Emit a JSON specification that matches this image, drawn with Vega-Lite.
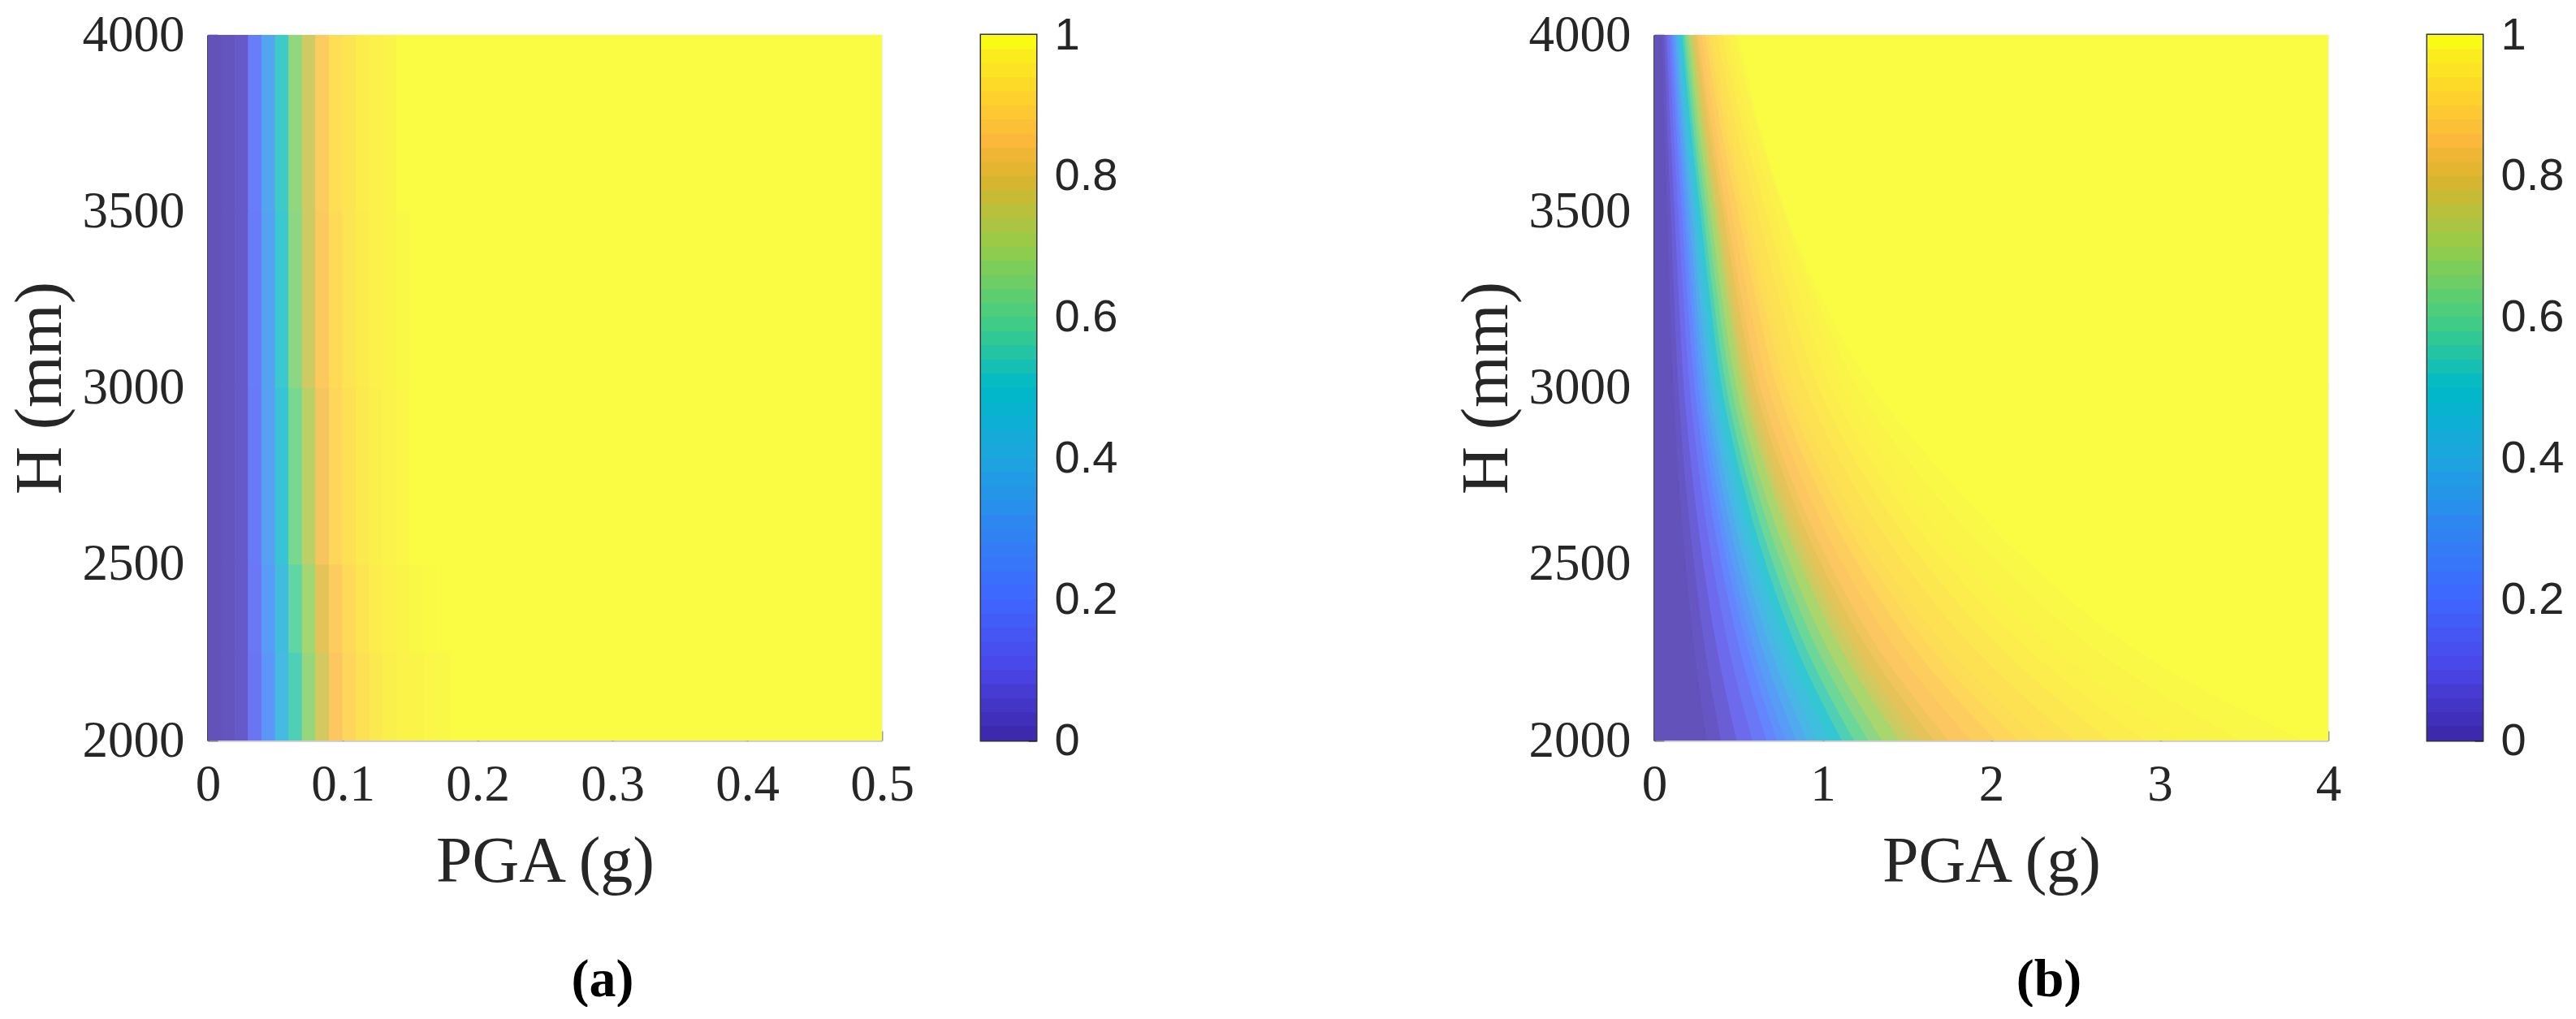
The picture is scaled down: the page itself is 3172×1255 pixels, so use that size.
{
"$schema":"https://vega.github.io/schema/vega-lite/v6.json",
"background":"white",
"padding":{"left":8,"top":12,"right":0,"bottom":0},
"bounds":"flush",
"spacing":1781,
"resolve":{"scale":{"color":"independent","stroke":"independent"}},
"config":{"view":{"stroke":null},
"axis":{"labelFont":"Liberation Serif","titleFont":"Liberation Serif","labelFontSize":63,"titleFontSize":80,"labelColor":"#262626","titleColor":"#262626","titleFontWeight":"normal","zindex":1,"grid":true,"gridColor":"#000","gridOpacity":0.05,"gridWidth":2,"tickSize":-12,"tickWidth":2,"tickColor":"#222","tickOpacity":0.4,"labelPadding":27,"domainWidth":3,"labelFlush":false,"labelOverlap":false}},
"datasets":{
"bar":[{"lo":0,"v":0.01},{"lo":0.02,"v":0.03},{"lo":0.04,"v":0.05},{"lo":0.06,"v":0.07},{"lo":0.08,"v":0.09},{"lo":0.1,"v":0.11},{"lo":0.12,"v":0.13},{"lo":0.14,"v":0.15},{"lo":0.16,"v":0.17},{"lo":0.18,"v":0.19},{"lo":0.2,"v":0.21},{"lo":0.22,"v":0.23},{"lo":0.24,"v":0.25},{"lo":0.26,"v":0.27},{"lo":0.28,"v":0.29},{"lo":0.3,"v":0.31},{"lo":0.32,"v":0.33},{"lo":0.34,"v":0.35},{"lo":0.36,"v":0.37},{"lo":0.38,"v":0.39},{"lo":0.4,"v":0.41},{"lo":0.42,"v":0.43},{"lo":0.44,"v":0.45},{"lo":0.46,"v":0.47},{"lo":0.48,"v":0.49},{"lo":0.5,"v":0.51},{"lo":0.52,"v":0.53},{"lo":0.54,"v":0.55},{"lo":0.56,"v":0.57},{"lo":0.58,"v":0.59},{"lo":0.6,"v":0.61},{"lo":0.62,"v":0.63},{"lo":0.64,"v":0.65},{"lo":0.66,"v":0.67},{"lo":0.68,"v":0.69},{"lo":0.7,"v":0.71},{"lo":0.72,"v":0.73},{"lo":0.74,"v":0.75},{"lo":0.76,"v":0.77},{"lo":0.78,"v":0.79},{"lo":0.8,"v":0.81},{"lo":0.82,"v":0.83},{"lo":0.84,"v":0.85},{"lo":0.86,"v":0.87},{"lo":0.88,"v":0.89},{"lo":0.9,"v":0.91},{"lo":0.92,"v":0.93},{"lo":0.94,"v":0.95},{"lo":0.96,"v":0.97},{"lo":0.98,"v":1}],
"a":[
{"x0":0.19,"x1":0.5,"h0":2000,"h1":4000,"v":1},
{"x0":0,"x1":0.01,"h0":2000,"h1":2250,"v":0.005},{"x0":0.01,"x1":0.02,"h0":2000,"h1":2250,"v":0.01},{"x0":0.02,"x1":0.03,"h0":2000,"h1":2250,"v":0.03},{"x0":0.03,"x1":0.04,"h0":2000,"h1":2250,"v":0.14},{"x0":0.04,"x1":0.05,"h0":2000,"h1":2250,"v":0.27},{"x0":0.05,"x1":0.06,"h0":2000,"h1":2250,"v":0.42},{"x0":0.06,"x1":0.07,"h0":2000,"h1":2250,"v":0.55},{"x0":0.07,"x1":0.08,"h0":2000,"h1":2250,"v":0.67},{"x0":0.08,"x1":0.09,"h0":2000,"h1":2250,"v":0.77},{"x0":0.09,"x1":0.1,"h0":2000,"h1":2250,"v":0.85},{"x0":0.1,"x1":0.11,"h0":2000,"h1":2250,"v":0.9},{"x0":0.11,"x1":0.12,"h0":2000,"h1":2250,"v":0.93},{"x0":0.12,"x1":0.13,"h0":2000,"h1":2250,"v":0.95},{"x0":0.13,"x1":0.14,"h0":2000,"h1":2250,"v":0.965},{"x0":0.14,"x1":0.15,"h0":2000,"h1":2250,"v":0.975},{"x0":0.15,"x1":0.16,"h0":2000,"h1":2250,"v":0.98},{"x0":0.16,"x1":0.17,"h0":2000,"h1":2250,"v":0.985},{"x0":0.17,"x1":0.18,"h0":2000,"h1":2250,"v":0.99},{"x0":0.18,"x1":0.19,"h0":2000,"h1":2250,"v":1},
{"x0":0,"x1":0.01,"h0":2250,"h1":2500,"v":0.005},{"x0":0.01,"x1":0.02,"h0":2250,"h1":2500,"v":0.01},{"x0":0.02,"x1":0.03,"h0":2250,"h1":2500,"v":0.03},{"x0":0.03,"x1":0.04,"h0":2250,"h1":2500,"v":0.15},{"x0":0.04,"x1":0.05,"h0":2250,"h1":2500,"v":0.29},{"x0":0.05,"x1":0.06,"h0":2250,"h1":2500,"v":0.44},{"x0":0.06,"x1":0.07,"h0":2250,"h1":2500,"v":0.58},{"x0":0.07,"x1":0.08,"h0":2250,"h1":2500,"v":0.69},{"x0":0.08,"x1":0.09,"h0":2250,"h1":2500,"v":0.8},{"x0":0.09,"x1":0.1,"h0":2250,"h1":2500,"v":0.87},{"x0":0.1,"x1":0.11,"h0":2250,"h1":2500,"v":0.91},{"x0":0.11,"x1":0.12,"h0":2250,"h1":2500,"v":0.94},{"x0":0.12,"x1":0.13,"h0":2250,"h1":2500,"v":0.96},{"x0":0.13,"x1":0.14,"h0":2250,"h1":2500,"v":0.97},{"x0":0.14,"x1":0.15,"h0":2250,"h1":2500,"v":0.98},{"x0":0.15,"x1":0.16,"h0":2250,"h1":2500,"v":0.99},{"x0":0.16,"x1":0.17,"h0":2250,"h1":2500,"v":0.995},{"x0":0.17,"x1":0.19,"h0":2250,"h1":2500,"v":1},
{"x0":0,"x1":0.01,"h0":2500,"h1":3000,"v":0.005},{"x0":0.01,"x1":0.02,"h0":2500,"h1":3000,"v":0.01},{"x0":0.02,"x1":0.03,"h0":2500,"h1":3000,"v":0.03},{"x0":0.03,"x1":0.04,"h0":2500,"h1":3000,"v":0.16},{"x0":0.04,"x1":0.05,"h0":2500,"h1":3000,"v":0.31},{"x0":0.05,"x1":0.06,"h0":2500,"h1":3000,"v":0.48},{"x0":0.06,"x1":0.07,"h0":2500,"h1":3000,"v":0.62},{"x0":0.07,"x1":0.08,"h0":2500,"h1":3000,"v":0.73},{"x0":0.08,"x1":0.09,"h0":2500,"h1":3000,"v":0.84},{"x0":0.09,"x1":0.1,"h0":2500,"h1":3000,"v":0.9},{"x0":0.1,"x1":0.11,"h0":2500,"h1":3000,"v":0.93},{"x0":0.11,"x1":0.12,"h0":2500,"h1":3000,"v":0.95},{"x0":0.12,"x1":0.13,"h0":2500,"h1":3000,"v":0.965},{"x0":0.13,"x1":0.14,"h0":2500,"h1":3000,"v":0.975},{"x0":0.14,"x1":0.15,"h0":2500,"h1":3000,"v":0.985},{"x0":0.15,"x1":0.19,"h0":2500,"h1":3000,"v":1},
{"x0":0,"x1":0.01,"h0":3000,"h1":3500,"v":0.005},{"x0":0.01,"x1":0.02,"h0":3000,"h1":3500,"v":0.01},{"x0":0.02,"x1":0.03,"h0":3000,"h1":3500,"v":0.03},{"x0":0.03,"x1":0.04,"h0":3000,"h1":3500,"v":0.165},{"x0":0.04,"x1":0.05,"h0":3000,"h1":3500,"v":0.32},{"x0":0.05,"x1":0.06,"h0":3000,"h1":3500,"v":0.51},{"x0":0.06,"x1":0.07,"h0":3000,"h1":3500,"v":0.65},{"x0":0.07,"x1":0.08,"h0":3000,"h1":3500,"v":0.76},{"x0":0.08,"x1":0.09,"h0":3000,"h1":3500,"v":0.86},{"x0":0.09,"x1":0.1,"h0":3000,"h1":3500,"v":0.91},{"x0":0.1,"x1":0.11,"h0":3000,"h1":3500,"v":0.94},{"x0":0.11,"x1":0.12,"h0":3000,"h1":3500,"v":0.955},{"x0":0.12,"x1":0.13,"h0":3000,"h1":3500,"v":0.97},{"x0":0.13,"x1":0.14,"h0":3000,"h1":3500,"v":0.98},{"x0":0.14,"x1":0.15,"h0":3000,"h1":3500,"v":0.99},{"x0":0.15,"x1":0.19,"h0":3000,"h1":3500,"v":1},
{"x0":0,"x1":0.01,"h0":3500,"h1":4000,"v":0.005},{"x0":0.01,"x1":0.02,"h0":3500,"h1":4000,"v":0.01},{"x0":0.02,"x1":0.03,"h0":3500,"h1":4000,"v":0.03},{"x0":0.03,"x1":0.04,"h0":3500,"h1":4000,"v":0.17},{"x0":0.04,"x1":0.05,"h0":3500,"h1":4000,"v":0.33},{"x0":0.05,"x1":0.06,"h0":3500,"h1":4000,"v":0.52},{"x0":0.06,"x1":0.07,"h0":3500,"h1":4000,"v":0.66},{"x0":0.07,"x1":0.08,"h0":3500,"h1":4000,"v":0.76},{"x0":0.08,"x1":0.09,"h0":3500,"h1":4000,"v":0.87},{"x0":0.09,"x1":0.1,"h0":3500,"h1":4000,"v":0.92},{"x0":0.1,"x1":0.11,"h0":3500,"h1":4000,"v":0.94},{"x0":0.11,"x1":0.12,"h0":3500,"h1":4000,"v":0.96},{"x0":0.12,"x1":0.13,"h0":3500,"h1":4000,"v":0.97},{"x0":0.13,"x1":0.14,"h0":3500,"h1":4000,"v":0.98},{"x0":0.14,"x1":0.19,"h0":3500,"h1":4000,"v":1}
],
"b":[
{"H":2000,"p":0,"v":0.005},{"H":4000,"p":0,"v":0.005},
{"H":2000,"p":0.312,"v":0.02},{"H":2250,"p":0.24,"v":0.02},{"H":2500,"p":0.186,"v":0.02},{"H":2750,"p":0.144,"v":0.02},{"H":3000,"p":0.113,"v":0.02},{"H":3250,"p":0.093,"v":0.02},{"H":3500,"p":0.077,"v":0.02},{"H":3750,"p":0.06,"v":0.02},{"H":4000,"p":0.047,"v":0.02},
{"H":2000,"p":0.395,"v":0.05},{"H":2250,"p":0.304,"v":0.05},{"H":2500,"p":0.236,"v":0.05},{"H":2750,"p":0.182,"v":0.05},{"H":3000,"p":0.143,"v":0.05},{"H":3250,"p":0.118,"v":0.05},{"H":3500,"p":0.097,"v":0.05},{"H":3750,"p":0.076,"v":0.05},{"H":4000,"p":0.059,"v":0.05},
{"H":2000,"p":0.489,"v":0.1},{"H":2250,"p":0.376,"v":0.1},{"H":2500,"p":0.291,"v":0.1},{"H":2750,"p":0.226,"v":0.1},{"H":3000,"p":0.176,"v":0.1},{"H":3250,"p":0.146,"v":0.1},{"H":3500,"p":0.12,"v":0.1},{"H":3750,"p":0.094,"v":0.1},{"H":4000,"p":0.073,"v":0.1},
{"H":2000,"p":0.582,"v":0.15},{"H":2250,"p":0.448,"v":0.15},{"H":2500,"p":0.347,"v":0.15},{"H":2750,"p":0.269,"v":0.15},{"H":3000,"p":0.21,"v":0.15},{"H":3250,"p":0.174,"v":0.15},{"H":3500,"p":0.143,"v":0.15},{"H":3750,"p":0.112,"v":0.15},{"H":4000,"p":0.087,"v":0.15},
{"H":2000,"p":0.666,"v":0.2},{"H":2250,"p":0.512,"v":0.2},{"H":2500,"p":0.397,"v":0.2},{"H":2750,"p":0.307,"v":0.2},{"H":3000,"p":0.24,"v":0.2},{"H":3250,"p":0.198,"v":0.2},{"H":3500,"p":0.163,"v":0.2},{"H":3750,"p":0.128,"v":0.2},{"H":4000,"p":0.099,"v":0.2},
{"H":2000,"p":0.728,"v":0.25},{"H":2250,"p":0.56,"v":0.25},{"H":2500,"p":0.434,"v":0.25},{"H":2750,"p":0.336,"v":0.25},{"H":3000,"p":0.263,"v":0.25},{"H":3250,"p":0.217,"v":0.25},{"H":3500,"p":0.179,"v":0.25},{"H":3750,"p":0.14,"v":0.25},{"H":4000,"p":0.109,"v":0.25},
{"H":2000,"p":0.78,"v":0.3},{"H":2250,"p":0.6,"v":0.3},{"H":2500,"p":0.465,"v":0.3},{"H":2750,"p":0.36,"v":0.3},{"H":3000,"p":0.281,"v":0.3},{"H":3250,"p":0.233,"v":0.3},{"H":3500,"p":0.191,"v":0.3},{"H":3750,"p":0.15,"v":0.3},{"H":4000,"p":0.116,"v":0.3},
{"H":2000,"p":0.842,"v":0.35},{"H":2250,"p":0.648,"v":0.35},{"H":2500,"p":0.502,"v":0.35},{"H":2750,"p":0.389,"v":0.35},{"H":3000,"p":0.304,"v":0.35},{"H":3250,"p":0.251,"v":0.35},{"H":3500,"p":0.207,"v":0.35},{"H":3750,"p":0.162,"v":0.35},{"H":4000,"p":0.126,"v":0.35},
{"H":2000,"p":0.905,"v":0.4},{"H":2250,"p":0.696,"v":0.4},{"H":2500,"p":0.539,"v":0.4},{"H":2750,"p":0.418,"v":0.4},{"H":3000,"p":0.326,"v":0.4},{"H":3250,"p":0.27,"v":0.4},{"H":3500,"p":0.222,"v":0.4},{"H":3750,"p":0.174,"v":0.4},{"H":4000,"p":0.135,"v":0.4},
{"H":2000,"p":0.967,"v":0.45},{"H":2250,"p":0.744,"v":0.45},{"H":2500,"p":0.577,"v":0.45},{"H":2750,"p":0.446,"v":0.45},{"H":3000,"p":0.349,"v":0.45},{"H":3250,"p":0.288,"v":0.45},{"H":3500,"p":0.237,"v":0.45},{"H":3750,"p":0.186,"v":0.45},{"H":4000,"p":0.144,"v":0.45},
{"H":2000,"p":1.04,"v":0.5},{"H":2250,"p":0.8,"v":0.5},{"H":2500,"p":0.62,"v":0.5},{"H":2750,"p":0.48,"v":0.5},{"H":3000,"p":0.375,"v":0.5},{"H":3250,"p":0.31,"v":0.5},{"H":3500,"p":0.255,"v":0.5},{"H":3750,"p":0.2,"v":0.5},{"H":4000,"p":0.155,"v":0.5},
{"H":2000,"p":1.113,"v":0.55},{"H":2250,"p":0.856,"v":0.55},{"H":2500,"p":0.663,"v":0.55},{"H":2750,"p":0.514,"v":0.55},{"H":3000,"p":0.401,"v":0.55},{"H":3250,"p":0.332,"v":0.55},{"H":3500,"p":0.273,"v":0.55},{"H":3750,"p":0.214,"v":0.55},{"H":4000,"p":0.166,"v":0.55},
{"H":2000,"p":1.186,"v":0.6},{"H":2250,"p":0.912,"v":0.6},{"H":2500,"p":0.707,"v":0.6},{"H":2750,"p":0.547,"v":0.6},{"H":3000,"p":0.428,"v":0.6},{"H":3250,"p":0.353,"v":0.6},{"H":3500,"p":0.291,"v":0.6},{"H":3750,"p":0.228,"v":0.6},{"H":4000,"p":0.177,"v":0.6},
{"H":2000,"p":1.269,"v":0.65},{"H":2250,"p":0.976,"v":0.65},{"H":2500,"p":0.756,"v":0.65},{"H":2750,"p":0.586,"v":0.65},{"H":3000,"p":0.458,"v":0.65},{"H":3250,"p":0.378,"v":0.65},{"H":3500,"p":0.311,"v":0.65},{"H":3750,"p":0.244,"v":0.65},{"H":4000,"p":0.189,"v":0.65},
{"H":2000,"p":1.352,"v":0.7},{"H":2250,"p":1.04,"v":0.7},{"H":2500,"p":0.806,"v":0.7},{"H":2750,"p":0.624,"v":0.7},{"H":3000,"p":0.488,"v":0.7},{"H":3250,"p":0.403,"v":0.7},{"H":3500,"p":0.332,"v":0.7},{"H":3750,"p":0.26,"v":0.7},{"H":4000,"p":0.202,"v":0.7},
{"H":2000,"p":1.456,"v":0.75},{"H":2250,"p":1.12,"v":0.75},{"H":2500,"p":0.868,"v":0.75},{"H":2750,"p":0.672,"v":0.75},{"H":3000,"p":0.525,"v":0.75},{"H":3250,"p":0.434,"v":0.75},{"H":3500,"p":0.357,"v":0.75},{"H":3750,"p":0.28,"v":0.75},{"H":4000,"p":0.217,"v":0.75},
{"H":2000,"p":1.52,"v":0.775},{"H":2250,"p":1.17,"v":0.775},{"H":2500,"p":0.905,"v":0.775},{"H":2750,"p":0.7,"v":0.775},{"H":3000,"p":0.548,"v":0.775},{"H":3250,"p":0.452,"v":0.775},{"H":3500,"p":0.372,"v":0.775},{"H":3750,"p":0.292,"v":0.775},{"H":4000,"p":0.226,"v":0.775},
{"H":2000,"p":1.581,"v":0.8},{"H":2250,"p":1.216,"v":0.8},{"H":2500,"p":0.942,"v":0.8},{"H":2750,"p":0.73,"v":0.8},{"H":3000,"p":0.57,"v":0.8},{"H":3250,"p":0.471,"v":0.8},{"H":3500,"p":0.388,"v":0.8},{"H":3750,"p":0.304,"v":0.8},{"H":4000,"p":0.236,"v":0.8},
{"H":2000,"p":1.66,"v":0.825},{"H":2250,"p":1.28,"v":0.825},{"H":2500,"p":0.99,"v":0.825},{"H":2750,"p":0.768,"v":0.825},{"H":3000,"p":0.6,"v":0.825},{"H":3250,"p":0.496,"v":0.825},{"H":3500,"p":0.408,"v":0.825},{"H":3750,"p":0.32,"v":0.825},{"H":4000,"p":0.248,"v":0.825},
{"H":2000,"p":1.747,"v":0.85},{"H":2250,"p":1.344,"v":0.85},{"H":2500,"p":1.042,"v":0.85},{"H":2750,"p":0.806,"v":0.85},{"H":3000,"p":0.63,"v":0.85},{"H":3250,"p":0.521,"v":0.85},{"H":3500,"p":0.428,"v":0.85},{"H":3750,"p":0.336,"v":0.85},{"H":4000,"p":0.26,"v":0.85},
{"H":2000,"p":1.88,"v":0.875},{"H":2250,"p":1.45,"v":0.875},{"H":2500,"p":1.12,"v":0.875},{"H":2750,"p":0.868,"v":0.875},{"H":3000,"p":0.678,"v":0.875},{"H":3250,"p":0.56,"v":0.875},{"H":3500,"p":0.46,"v":0.875},{"H":3750,"p":0.362,"v":0.875},{"H":4000,"p":0.28,"v":0.875},
{"H":2000,"p":2.028,"v":0.9},{"H":2250,"p":1.56,"v":0.9},{"H":2500,"p":1.209,"v":0.9},{"H":2750,"p":0.936,"v":0.9},{"H":3000,"p":0.731,"v":0.9},{"H":3250,"p":0.605,"v":0.9},{"H":3500,"p":0.497,"v":0.9},{"H":3750,"p":0.39,"v":0.9},{"H":4000,"p":0.302,"v":0.9},
{"H":2000,"p":2.16,"v":0.915},{"H":2250,"p":1.66,"v":0.915},{"H":2500,"p":1.286,"v":0.915},{"H":2750,"p":0.996,"v":0.915},{"H":3000,"p":0.778,"v":0.915},{"H":3250,"p":0.643,"v":0.915},{"H":3500,"p":0.529,"v":0.915},{"H":3750,"p":0.415,"v":0.915},{"H":4000,"p":0.321,"v":0.915},
{"H":2000,"p":2.288,"v":0.93},{"H":2250,"p":1.76,"v":0.93},{"H":2500,"p":1.364,"v":0.93},{"H":2750,"p":1.056,"v":0.93},{"H":3000,"p":0.825,"v":0.93},{"H":3250,"p":0.682,"v":0.93},{"H":3500,"p":0.561,"v":0.93},{"H":3750,"p":0.44,"v":0.93},{"H":4000,"p":0.341,"v":0.93},
{"H":2000,"p":2.496,"v":0.945},{"H":2250,"p":1.92,"v":0.945},{"H":2500,"p":1.488,"v":0.945},{"H":2750,"p":1.152,"v":0.945},{"H":3000,"p":0.9,"v":0.945},{"H":3250,"p":0.744,"v":0.945},{"H":3500,"p":0.612,"v":0.945},{"H":3750,"p":0.48,"v":0.945},{"H":4000,"p":0.372,"v":0.945},
{"H":2000,"p":2.704,"v":0.96},{"H":2250,"p":2.08,"v":0.96},{"H":2500,"p":1.612,"v":0.96},{"H":2750,"p":1.248,"v":0.96},{"H":3000,"p":0.975,"v":0.96},{"H":3250,"p":0.806,"v":0.96},{"H":3500,"p":0.663,"v":0.96},{"H":3750,"p":0.52,"v":0.96},{"H":4000,"p":0.403,"v":0.96},
{"H":2000,"p":2.91,"v":0.97},{"H":2250,"p":2.24,"v":0.97},{"H":2500,"p":1.736,"v":0.97},{"H":2750,"p":1.344,"v":0.97},{"H":3000,"p":1.05,"v":0.97},{"H":3250,"p":0.868,"v":0.97},{"H":3500,"p":0.714,"v":0.97},{"H":3750,"p":0.56,"v":0.97},{"H":4000,"p":0.434,"v":0.97},
{"H":2000,"p":3.12,"v":0.98},{"H":2250,"p":2.4,"v":0.98},{"H":2500,"p":1.86,"v":0.98},{"H":2750,"p":1.44,"v":0.98},{"H":3000,"p":1.125,"v":0.98},{"H":3250,"p":0.93,"v":0.98},{"H":3500,"p":0.765,"v":0.98},{"H":3750,"p":0.6,"v":0.98},{"H":4000,"p":0.465,"v":0.98},
{"H":2000,"p":3.48,"v":0.99},{"H":2250,"p":2.64,"v":0.99},{"H":2500,"p":2.05,"v":0.99},{"H":2750,"p":1.58,"v":0.99},{"H":3000,"p":1.21,"v":0.99},{"H":3250,"p":0.965,"v":0.99},{"H":3500,"p":0.772,"v":0.99},{"H":3750,"p":0.61,"v":0.99},{"H":4000,"p":0.482,"v":0.99},
{"H":2000,"p":3.85,"v":1},{"H":2250,"p":2.88,"v":1},{"H":2500,"p":2.232,"v":1},{"H":2750,"p":1.728,"v":1},{"H":3000,"p":1.3,"v":1},{"H":3250,"p":1.0,"v":1},{"H":3500,"p":0.78,"v":1},{"H":3750,"p":0.62,"v":1},{"H":4000,"p":0.5,"v":1}
]},
"hconcat":[
{"bounds":"flush","spacing":122,"resolve":{"scale":{"color":"independent","stroke":"independent"}},"hconcat":[
{"width":830,"height":869,
"title":{"text":"(a)","orient":"bottom","font":"Liberation Serif","fontWeight":"bold","fontSize":66,"color":"#000","dx":71,"offset":74},
"data":{"name":"a"},
"mark":{"type":"rect","strokeWidth":1,"clip":true},
"encoding":{
"x":{"field":"x0","type":"quantitative","scale":{"domain":[0,0.5],"nice":false},"axis":{"title":"PGA (g)","values":[0,0.1,0.2,0.3,0.4,0.5],"format":".1~f","domainColor":"#333","domainOpacity":0.2,"labelPadding":35,"titlePadding":24}},
"x2":{"field":"x1"},
"y":{"field":"h0","type":"quantitative","scale":{"domain":[2000,4000],"nice":false,"zero":false},"axis":{"title":"H (mm)","titleFontSize":82,"values":[2000,2500,3000,3500,4000],"format":"d","domainColor":"#333","domainOpacity":0.9,"labelPadding":41,"titlePadding":10}},
"y2":{"field":"h1"},
"color":{"field":"v","type":"quantitative","legend":null,"scale":{"interpolate":"rgb","domain":[0,0.1,0.2,0.3,0.4,0.5,0.6,0.7,0.8,0.85,0.9,1],"range":["#6351B8","#6E6AED","#6585FF","#589DF5","#49B7E5","#33C7D4","#6BD899","#AAD66E","#E4C358","#FCC661","#FED659","#FAFC44"]}},
"stroke":{"field":"v","type":"quantitative","legend":null,"scale":{"interpolate":"rgb","domain":[0,0.1,0.2,0.3,0.4,0.5,0.6,0.7,0.8,0.85,0.9,1],"range":["#6351B8","#6E6AED","#6585FF","#589DF5","#49B7E5","#33C7D4","#6BD899","#AAD66E","#E4C358","#FCC661","#FED659","#FAFC44"]}}
}},
{"width":68,"height":869,"view":{"stroke":"#333","strokeWidth":3},
"data":{"name":"bar"},
"mark":{"type":"rect","clip":true},
"encoding":{
"x":{"datum":0,"type":"quantitative","scale":{"domain":[0,1]},"axis":null},
"x2":{"datum":1},
"y":{"field":"lo","type":"quantitative","scale":{"domain":[0,1],"nice":false},"axis":{"orient":"right","title":null,"grid":false,"domain":false,"values":[0,0.2,0.4,0.6,0.8,1],"format":".1~f","labelFont":"Liberation Sans","labelFontSize":56,"labelPadding":32,"tickSize":-10,"tickOpacity":1}},
"y2":{"datum":1},
"color":{"field":"v","type":"quantitative","legend":null,"scale":{"interpolate":"rgb","domain":[0,0.1,0.2,0.3,0.4,0.5,0.6,0.7,0.8,0.85,0.9,1],"range":["#3C26A6","#4A45E8","#3F66FF","#2E85F2","#1CA5DE","#00B9C9","#46CE80","#95CC4A","#DDB42E","#FBB83A","#FECC30","#F9FB15"]}}
}}
]},
{"bounds":"flush","spacing":122,"resolve":{"scale":{"color":"independent","stroke":"independent"}},"hconcat":[
{"width":830,"height":869,
"title":{"text":"(b)","orient":"bottom","font":"Liberation Serif","fontWeight":"bold","fontSize":66,"color":"#000","dx":71,"offset":74},
"data":{"name":"b"},
"mark":{"type":"area","orient":"horizontal","interpolate":"monotone","clip":true},
"encoding":{
"x":{"field":"p","type":"quantitative","stack":null,"scale":{"domain":[0,4],"nice":false},"axis":{"title":"PGA (g)","values":[0,1,2,3,4],"format":"d","domainColor":"#333","domainOpacity":0.2,"labelPadding":35,"titlePadding":24}},
"x2":{"datum":4},
"y":{"field":"H","type":"quantitative","scale":{"domain":[2000,4000],"nice":false,"zero":false},"axis":{"title":"H (mm)","titleFontSize":82,"values":[2000,2500,3000,3500,4000],"format":"d","domainColor":"#333","domainOpacity":0.9,"labelPadding":41,"titlePadding":10}},
"detail":{"field":"v"},
"color":{"field":"v","type":"quantitative","legend":null,"scale":{"interpolate":"rgb","domain":[0,0.1,0.2,0.3,0.4,0.5,0.6,0.7,0.8,0.85,0.9,1],"range":["#6351B8","#6E6AED","#6585FF","#589DF5","#49B7E5","#33C7D4","#6BD899","#AAD66E","#E4C358","#FCC661","#FED659","#FAFC44"]}}
}},
{"width":68,"height":869,"view":{"stroke":"#333","strokeWidth":3},
"data":{"name":"bar"},
"mark":{"type":"rect","clip":true},
"encoding":{
"x":{"datum":0,"type":"quantitative","scale":{"domain":[0,1]},"axis":null},
"x2":{"datum":1},
"y":{"field":"lo","type":"quantitative","scale":{"domain":[0,1],"nice":false},"axis":{"orient":"right","title":null,"grid":false,"domain":false,"values":[0,0.2,0.4,0.6,0.8,1],"format":".1~f","labelFont":"Liberation Sans","labelFontSize":56,"labelPadding":32,"tickSize":-10,"tickOpacity":1}},
"y2":{"datum":1},
"color":{"field":"v","type":"quantitative","legend":null,"scale":{"interpolate":"rgb","domain":[0,0.1,0.2,0.3,0.4,0.5,0.6,0.7,0.8,0.85,0.9,1],"range":["#3C26A6","#4A45E8","#3F66FF","#2E85F2","#1CA5DE","#00B9C9","#46CE80","#95CC4A","#DDB42E","#FBB83A","#FECC30","#F9FB15"]}}
}}
]}
]
}
